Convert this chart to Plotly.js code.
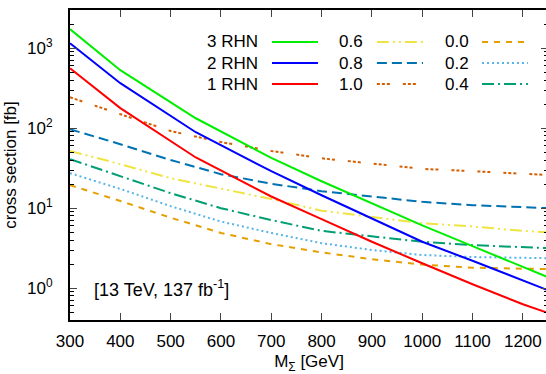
<!DOCTYPE html>
<html>
<head>
<meta charset="utf-8">
<script src="https://cdn.plot.ly/plotly-3.0.1.min.js"></script>
<style>html,body{margin:0;padding:0;overflow:hidden;background:#fff;}</style>
</head>
<body>
<div id="chart"></div>
<script>
// Main (RHN) curves
const massRHN = [300, 400, 550, 700, 800, 900, 1000, 1100, 1200, 1250];
const rhn3 = [1730, 531, 133, 42.5, 21.7, 11.5, 6.1, 3.35, 1.83, 1.37];
const rhn2 = [1150, 365, 89, 29, 14.5, 7.5, 3.8, 2.2, 1.23, 0.94];
const rhn1 = [562, 178, 43, 14, 7.3, 3.8, 2.05, 1.12, 0.63, 0.49];

// Branching-fraction curves
const massBR = [300, 400, 500, 600, 700, 800, 900, 1000, 1100, 1200, 1250];
const br10 = [243, 150, 92, 67, 52, 42, 36, 31, 29, 27, 26];
const br08 = [97, 63, 40, 26.6, 20.2, 16.3, 14, 12, 10.9, 10.3, 10];
const br06 = [52, 35.5, 23.7, 17.4, 13, 9.3, 7.8, 6.5, 5.9, 5.2, 5.0];
const br04 = [41, 25, 15.4, 10, 7.1, 5.2, 4.4, 3.8, 3.45, 3.25, 3.16];
const br02 = [27.4, 17.4, 10.6, 6.8, 4.9, 3.65, 3.0, 2.6, 2.45, 2.4, 2.37];
const br00 = [19.4, 12.3, 7.6, 4.9, 3.55, 2.8, 2.3, 1.97, 1.8, 1.75, 1.73];

const xTicks = [300, 400, 500, 600, 700, 800, 900, 1000, 1100, 1200];
const yTicks = [1, 10, 100, 1000];
const yTickText = ['10<sup>0</sup>', '10<sup>1</sup>', '10<sup>2</sup>', '10<sup>3</sup>'];

const styles = [
  {name: '3 RHN', x: massRHN, y: rhn3, color: '#00ee00', dash: 'solid', col: 0, row: 0},
  {name: '2 RHN', x: massRHN, y: rhn2, color: '#0000ff', dash: 'solid', col: 0, row: 1},
  {name: '1 RHN', x: massRHN, y: rhn1, color: '#ff0000', dash: 'solid', col: 0, row: 2},
  {name: '0.6', x: massBR, y: br06, color: '#f0e442', dash: '12px,4px,2px,4px,2px,4px', col: 1, row: 0},
  {name: '0.8', x: massBR, y: br08, color: '#0072b2', dash: '10px,5px', col: 1, row: 1},
  {name: '1.0', x: massBR, y: br10, color: '#d55e00', dash: '3px,2px,3px,2px,3px,13px', col: 1, row: 2},
  {name: '0.0', x: massBR, y: br00, color: '#e69f00', dash: '6px,6px', col: 2, row: 0},
  {name: '0.2', x: massBR, y: br02, color: '#56b4e9', dash: '2px,3px', col: 2, row: 1},
  {name: '0.4', x: massBR, y: br04, color: '#009e73', dash: '12px,4px,2px,4px', col: 2, row: 2}
];

// draw order: BR curves first, RHN on top
const order = [5, 4, 3, 8, 7, 6, 0, 1, 2];
const traces = order.map(i => {
  const s = styles[i];
  return {x: s.x, y: s.y, type: 'scatter', mode: 'lines', name: s.name,
    line: {color: s.color, width: 2, dash: s.dash}, showlegend: false, hoverinfo: 'skip'};
});

const fam = 'Liberation Sans, Arial, sans-serif';
const font = {family: fam, size: 17, color: '#000'};

// legend built with paper-referenced annotations and sample lines
const colText = [0.3975, 0.617, 0.839];
const colLine = [[0.4226, 0.5188], [0.642, 0.7385], [0.862, 0.958]];
const rowY = [0.897, 0.829, 0.761];
const annotations = [];
const shapes = [];
styles.forEach(s => {
  annotations.push({xref: 'paper', yref: 'paper', x: colText[s.col], y: rowY[s.row],
    text: s.name, showarrow: false, xanchor: 'right', yanchor: 'middle', font: font});
  shapes.push({type: 'line', xref: 'paper', yref: 'paper',
    x0: colLine[s.col][0], x1: colLine[s.col][1], y0: rowY[s.row], y1: rowY[s.row],
    line: {color: s.color, width: 2, dash: s.dash}});
});
annotations.push({xref: 'x', yref: 'y', x: 344, y: 0, text: '[13 TeV, 137 fb<sup>-1</sup>]',
  showarrow: false, xanchor: 'left', yanchor: 'middle', font: {family: fam, size: 18, color: '#000'}});

const minorY = [];
[0.1, 1, 10, 100, 1000].forEach(d => {
  for (let k = 2; k <= 9; k++) minorY.push(k * d);
});

const layout = {
  width: 549, height: 374,
  margin: {l: 70, r: 1, t: 10, b: 54},
  paper_bgcolor: '#fff', plot_bgcolor: '#fff',
  font: font,
  showlegend: false,
  xaxis: {
    range: [300, 1250], tickvals: xTicks, ticks: 'inside', ticklen: 7, tickwidth: 1,
    showline: true, linewidth: 2, linecolor: '#000', mirror: 'allticks',
    showgrid: false, zeroline: false, ticklabelstandoff: 5, automargin: true,
    title: {text: 'M<sub>Σ</sub> [GeV]', font: font, standoff: 9}
  },
  yaxis: {
    type: 'log', range: [Math.log10(0.4), Math.log10(3000)],
    tickvals: yTicks, ticktext: yTickText, ticks: 'inside', ticklen: 7, tickwidth: 1,
    minor: {tickvals: minorY, ticks: 'inside', ticklen: 4, tickwidth: 1, tickcolor: '#000', showgrid: false},
    showline: true, linewidth: 2, linecolor: '#000', mirror: 'allticks',
    showgrid: false, zeroline: false, ticklabelstandoff: 12,
    title: {text: 'cross section [fb]', font: font, standoff: 6}
  },
  annotations: annotations,
  shapes: shapes
};

Plotly.newPlot('chart', traces, layout, {displayModeBar: false, staticPlot: true});
</script>
</body>
</html>
